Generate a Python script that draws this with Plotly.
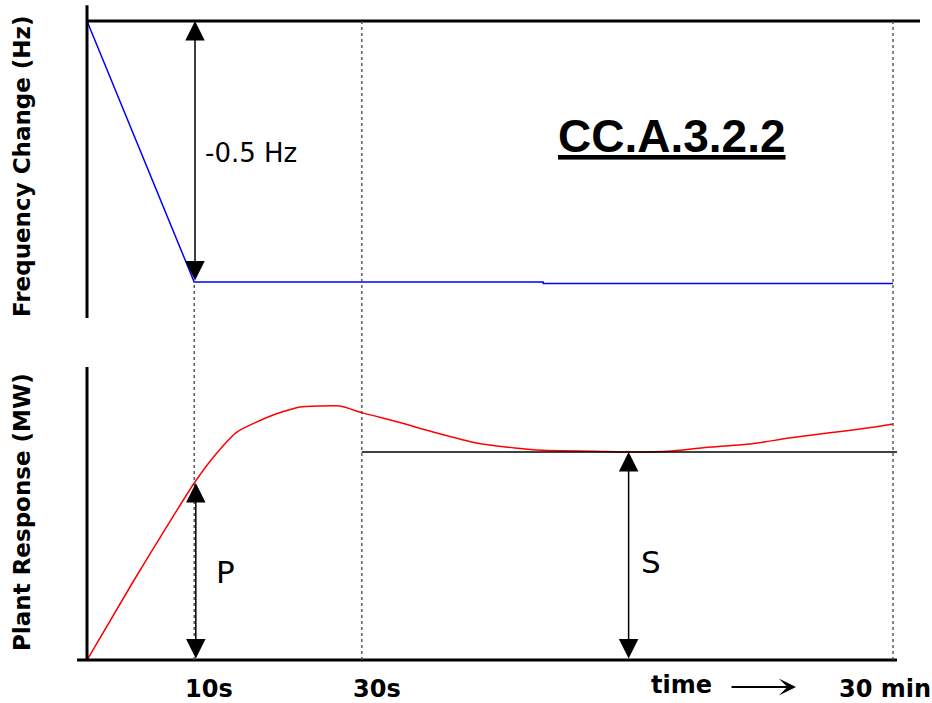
import plotly.graph_objects as go

# ---------------- data (schematic time units: 0 = start, 100 = 30 min) ----------------
freq_time = [0, 13.3, 56.6, 56.6, 100]
freq_change = [0, -0.5, -0.5, -0.503, -0.503]

resp_time = [0, 5.7, 9.1, 13.3, 15.9, 18.6, 23.1, 26.4, 28.9, 31.4, 34.2, 38.6, 43.4,
             48.3, 53.1, 56.6, 62.9, 67.4, 72.6, 77.4, 82.3, 87.1, 91.9, 96.8, 100]
resp_mw = [0, 37.5, 59.1, 85.1, 98.6, 109.6, 117.8, 121.6, 122.1, 122.1, 118.8, 114.4, 109.1,
           104.3, 101.9, 100.8, 100.4, 100.0, 100.5, 102.4, 103.8, 106.7, 109.1, 111.5, 113.5]

tick_pos = [13.3, 34.1, 100]
tick_labels = ["10s", "30s", "30 min"]

freq_step = -0.5          # -0.5 Hz
primary_P = 85.1          # P level at 10 s
secondary_S = 100.0       # S level
freq_arrow_t = 13.4
p_arrow_t = 13.5
s_arrow_t = 67.2

# ---------------- layout geometry ----------------
W, H = 932, 703
X_RANGE = [-10.794, 104.84]
Y_TOP_RANGE = [-0.6111, 0.04023]
Y_BOT_RANGE = [-20.67, 151.44]

BLACK = "#000000"
FONT = "DejaVu Sans"

fig = go.Figure()

fig.add_trace(go.Scatter(x=freq_time, y=freq_change, mode="lines",
                         line=dict(color="#0000ff", width=1.5),
                         xaxis="x", yaxis="y2", showlegend=False, hoverinfo="skip"))
fig.add_trace(go.Scatter(x=resp_time, y=resp_mw, mode="lines",
                         line=dict(color="#ff0000", width=1.5, shape="spline", smoothing=0.6),
                         xaxis="x", yaxis="y", showlegend=False, hoverinfo="skip"))

shapes = []
# axis frame lines
shapes.append(dict(type="line", xref="x", yref="y2", x0=0, x1=103.35, y0=0, y1=0,
                   line=dict(color=BLACK, width=3)))
shapes.append(dict(type="line", xref="x", yref="y2", x0=0, x1=0, y0=0.03, y1=-0.569,
                   line=dict(color=BLACK, width=3)))
shapes.append(dict(type="line", xref="x", yref="y", x0=0, x1=0, y0=0, y1=140.9,
                   line=dict(color=BLACK, width=3)))
shapes.append(dict(type="line", xref="x", yref="y", x0=-1.24, x1=100.5, y0=0, y1=0,
                   line=dict(color=BLACK, width=3)))
# S reference line from 30 s
shapes.append(dict(type="line", xref="x", yref="y", x0=tick_pos[1], x1=100.5,
                   y0=secondary_S, y1=secondary_S, line=dict(color=BLACK, width=1.3)))
# dotted verticals at tick positions
dot_tops = [(H - 284) / H, (H - 21) / H, (H - 21) / H]
for tp, top in zip(tick_pos, dot_tops):
    shapes.append(dict(type="line", xref="x", yref="paper", x0=tp, x1=tp,
                       y0=(H - 660) / H, y1=top,
                       line=dict(color="#444444", width=1.3, dash="dot")))

annotations = []
arrow_common = dict(showarrow=True, text="", arrowhead=2, startarrowhead=2,
                    arrowside="end+start", arrowsize=2.6, startarrowsize=2.6,
                    arrowwidth=1.5, arrowcolor=BLACK)
annotations.append(dict(x=freq_arrow_t, y=0, ax=freq_arrow_t, ay=freq_step,
                        xref="x", yref="y2", axref="x", ayref="y2", **arrow_common))
annotations.append(dict(x=p_arrow_t, y=primary_P, ax=p_arrow_t, ay=0,
                        xref="x", yref="y", axref="x", ayref="y", **arrow_common))
annotations.append(dict(x=s_arrow_t, y=secondary_S, ax=s_arrow_t, ay=0,
                        xref="x", yref="y", axref="x", ayref="y", **arrow_common))

# labels
annotations.append(dict(text="-0.5 Hz", x=203 / W, y=(H - 153) / H, xref="paper", yref="paper",
                        xanchor="left", yanchor="middle", showarrow=False,
                        font=dict(family=FONT, size=26, color=BLACK)))
annotations.append(dict(text="P", x=225 / W, y=(H - 572) / H, xref="paper", yref="paper",
                        xanchor="center", yanchor="middle", showarrow=False,
                        font=dict(family=FONT, size=31, color=BLACK)))
annotations.append(dict(text="S", x=651 / W, y=(H - 562) / H, xref="paper", yref="paper",
                        xanchor="center", yanchor="middle", showarrow=False,
                        font=dict(family=FONT, size=31, color=BLACK)))
annotations.append(dict(text="<b><u>CC.A.3.2.2</u></b>", x=672 / W, y=(H - 136) / H,
                        xref="paper", yref="paper", xanchor="center", yanchor="middle",
                        showarrow=False, font=dict(family="Liberation Sans", size=46, color=BLACK)))
# axis titles
annotations.append(dict(text="<b>Frequency Change (Hz)</b>", x=22 / W, y=(H - 166) / H,
                        xref="paper", yref="paper", textangle=-90, xanchor="center",
                        yanchor="middle", showarrow=False,
                        font=dict(family=FONT, size=23, color=BLACK)))
annotations.append(dict(text="<b>Plant Response (MW)</b>", x=22 / W, y=(H - 512) / H,
                        xref="paper", yref="paper", textangle=-90, xanchor="center",
                        yanchor="middle", showarrow=False,
                        font=dict(family=FONT, size=23, color=BLACK)))
# tick labels
tick_shift = [15, 15, -8]
for tp, lab, sh in zip(tick_pos, tick_labels, tick_shift):
    annotations.append(dict(text="<b>%s</b>" % lab, x=tp, y=(H - 689) / H, xref="x", yref="paper",
                            xanchor="center", yanchor="middle", xshift=sh, showarrow=False,
                            font=dict(family=FONT, size=24, color=BLACK)))
annotations.append(dict(text="<b>time</b>", x=681 / W, y=(H - 685) / H, xref="paper", yref="paper",
                        xanchor="center", yanchor="middle", showarrow=False,
                        font=dict(family=FONT, size=24, color=BLACK)))
annotations.append(dict(text="", x=796 / W, y=(H - 687) / H, xref="paper", yref="paper",
                        ax=-66, ay=0, showarrow=True, arrowhead=3, arrowsize=1.3,
                        arrowwidth=2.2, arrowcolor=BLACK))

fig.update_layout(
    width=W, height=H,
    margin=dict(l=0, r=0, t=0, b=0),
    paper_bgcolor="white", plot_bgcolor="rgba(0,0,0,0)",
    showlegend=False,
    xaxis=dict(domain=[0, 1], range=X_RANGE, visible=False, anchor="y"),
    yaxis=dict(domain=[0, (H - 345) / H], range=Y_BOT_RANGE, visible=False, anchor="x"),
    yaxis2=dict(domain=[(H - 340) / H, 1], range=Y_TOP_RANGE, visible=False, anchor="x"),
    shapes=shapes,
    annotations=annotations,
)

fig.write_html("out.html", config={"displayModeBar": False},
               post_script="document.body.style.margin='0px';document.body.style.overflow='hidden';")
